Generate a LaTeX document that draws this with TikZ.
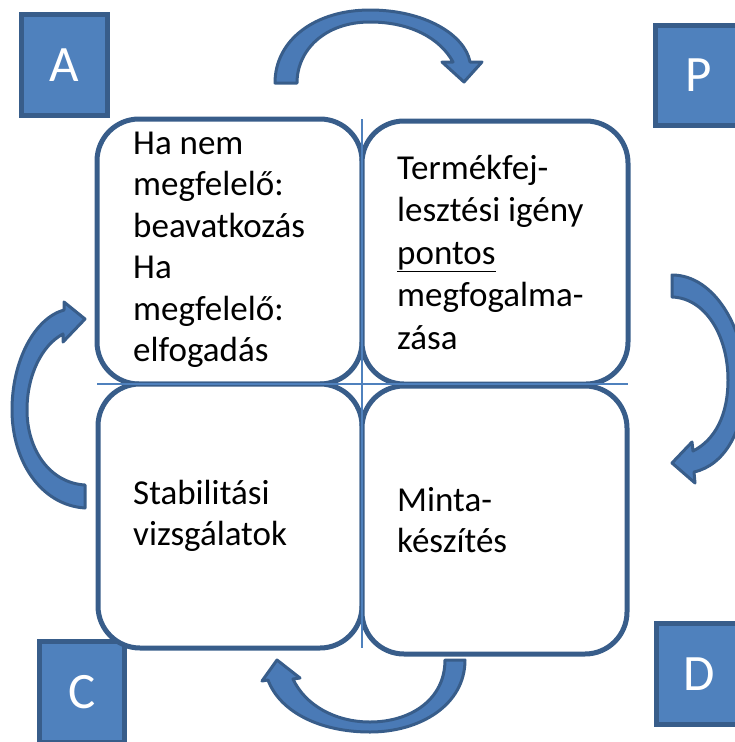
\documentclass[tikz,border=0pt]{standalone}
\usepackage{fontspec}
\setmainfont{Carlito}
\definecolor{accent}{HTML}{4F81BD}
\definecolor{edge}{HTML}{385D8A}
\definecolor{arrowfill}{HTML}{4A7AB6}
\begin{document}
\begin{tikzpicture}[x=1pt,y=-1pt,
  letterbox/.style={fill=accent, draw=edge, line width=5pt, inner sep=0pt, outer sep=0pt,
    text=white, font=\fontsize{51}{60}\selectfont},
  cell/.style={fill=white, draw=edge, line width=5pt, rounded corners=42pt, inner sep=0pt, outer sep=0pt},
  celltext/.style={font=\fontsize{35}{41.5}\selectfont, anchor=base west, inner sep=0pt},
  celltextwide/.style={font=\fontsize{35}{42.5}\selectfont, anchor=base west, inner sep=0pt},
  bendarrow/.style={fill=arrowfill, draw=edge, line width=3pt, line join=round},
  crossline/.style={draw=accent, line width=2pt}]
\useasboundingbox (0,0) rectangle (734,742);

% curved arrows
\filldraw[bendarrow] (275,83) .. controls (275,40) and (315,10) .. (370,10)
  .. controls (425,10) and (465,35) .. (470,62) -- (482,62) -- (464,82) -- (442,62) -- (453,62)
  .. controls (440,38) and (410,22) .. (370,22) .. controls (325,22) and (297,50) .. (297,83) -- cycle;
\filldraw[bendarrow] (672,275) .. controls (715,275) and (745,330) .. (745,380)
  .. controls (745,430) and (725,465) .. (694,472) -- (695,483) -- (672,463) -- (692,442) -- (693,451)
  .. controls (715,440) and (728,415) .. (728,380) .. controls (728,335) and (705,298) .. (672,297) -- cycle;
\filldraw[bendarrow] (465,660) .. controls (465,705) and (420,732) .. (370,732)
  .. controls (320,732) and (280,712) .. (268,680) -- (262,681) -- (277,660) -- (300,678) -- (293,679)
  .. controls (305,705) and (335,722) .. (370,722) .. controls (410,722) and (445,700) .. (445,660) -- cycle;
\filldraw[bendarrow] (85,508) .. controls (40,505) and (12,460) .. (12,410)
  .. controls (12,360) and (35,318) .. (64,310) -- (64,302) -- (85,319) -- (63,342) -- (63,334)
  .. controls (42,345) and (27,375) .. (27,410) .. controls (27,450) and (50,483) .. (85,485) -- cycle;

% letter squares
\node[letterbox, minimum width=86pt, minimum height=101pt] (A) at (64.5,65) {A};
\node[letterbox, minimum width=86pt, minimum height=100pt] (P) at (698.5,75.5) {P};
\node[letterbox, minimum width=85pt, minimum height=101pt] (C) at (82,692) {C};
\node[letterbox, minimum width=86pt, minimum height=101pt] (D) at (699.5,674) {D};

% four cells
\node[cell, minimum width=265pt, minimum height=265pt] (TL) at (229.5,251.5) {};
\node[cell, minimum width=266pt, minimum height=263pt] (TR) at (495,252.5) {};
\node[cell, minimum width=264pt, minimum height=264pt] (BL) at (230,516) {};
\node[cell, minimum width=265pt, minimum height=268pt] (BR) at (494.5,520) {};

% cross lines
\draw[crossline] (TL.south west) -- (TR.south east);
\draw[crossline] (TL.north east) -- (BL.south east);

% texts
\node[celltext] (tltext) at (133,154) {\begin{tabular}[t]{@{}l@{}}Ha nem\\megfelelő:\\beavatkozás\\Ha\\megfelelő:\\elfogadás\end{tabular}};
\node[celltextwide] (trtext) at (397,179) {\begin{tabular}[t]{@{}l@{}}Termékfej-\\lesztési igény\\\underline{pontos}\\megfogalma-\\zása\end{tabular}};
\node[celltext] (bltext) at (133,504) {\begin{tabular}[t]{@{}l@{}}Stabilitási\\vizsgálatok\end{tabular}};
\node[celltext] (brtext) at (397,511) {\begin{tabular}[t]{@{}l@{}}Minta-\\készítés\end{tabular}};
\end{tikzpicture}
\end{document}
